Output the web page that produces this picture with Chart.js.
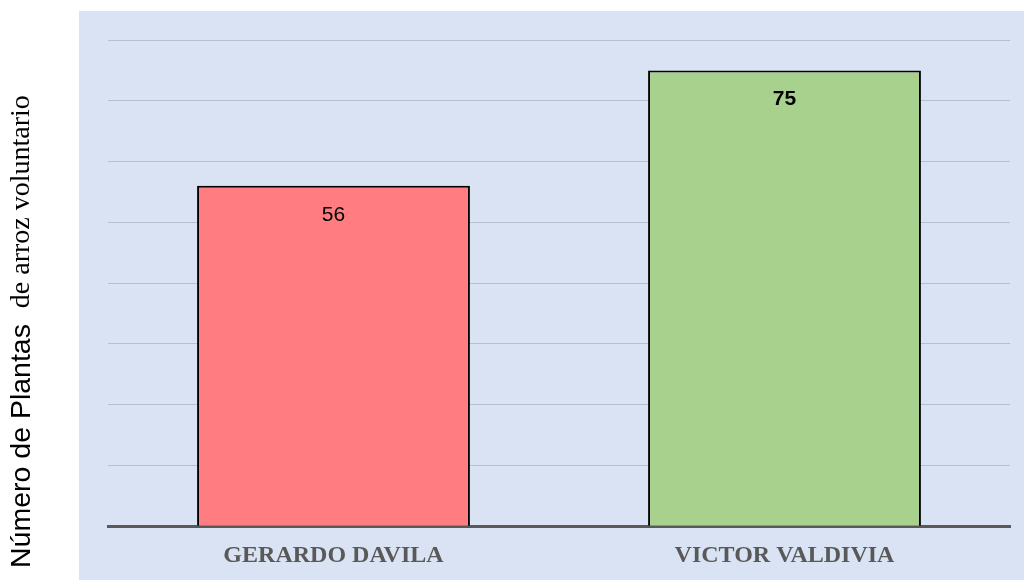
<!DOCTYPE html>
<html>
<head>
<meta charset="utf-8">
<script src="https://cdn.jsdelivr.net/npm/chart.js@4.4.1/dist/chart.umd.min.js"></script>
<style>
  html, body { margin: 0; padding: 0; background: #ffffff; }
  #wrap { width: 1024px; height: 580px; }
</style>
</head>
<body>
<div id="wrap"><canvas id="chart" width="1024" height="580"></canvas></div>
<script>
const categories = ['GERARDO DAVILA', 'VICTOR VALDIVIA'];
const plantValues = [56, 75];
const barColors = ['#ff7c80', '#a9d18e'];
const labelBold = [false, true];
const yTitleSans = 'Número de Plantas  ';
const yTitleSerif = 'de arroz voluntario';

// fondo azul del área de gráfico
const plotBackground = {
  id: 'plotBackground',
  beforeDraw(chart) {
    const { ctx, chartArea } = chart;
    ctx.save();
    ctx.fillStyle = '#dae3f3';
    ctx.fillRect(chartArea.left - 29, chartArea.top - 29, chart.width - (chartArea.left - 29), chart.height - (chartArea.top - 29));
    ctx.restore();
  }
};

// etiquetas de valor dentro de las barras
const valueLabels = {
  id: 'valueLabels',
  afterDatasetsDraw(chart) {
    const { ctx } = chart;
    const meta = chart.getDatasetMeta(0);
    ctx.save();
    ctx.fillStyle = '#000000';
    ctx.textAlign = 'center';
    ctx.textBaseline = 'middle';
    meta.data.forEach((bar, i) => {
      ctx.font = (labelBold[i] ? 'bold ' : '') + '21px "Liberation Sans", Arial, sans-serif';
      ctx.fillText(String(plantValues[i]), bar.x, bar.y + 29);
    });
    ctx.restore();
  }
};

// título del eje Y con dos tipografías
const yTitle = {
  id: 'yTitle',
  afterDraw(chart) {
    const { ctx } = chart;
    ctx.save();
    ctx.translate(22, chart.height - 12);
    ctx.rotate(-Math.PI / 2);
    ctx.fillStyle = '#000000';
    ctx.textAlign = 'left';
    ctx.textBaseline = 'middle';
    ctx.font = '28.5px "Liberation Sans", Arial, sans-serif';
    ctx.fillText(yTitleSans, 0, 0);
    const w = ctx.measureText(yTitleSans).width;
    ctx.font = '28px "Liberation Serif", "Times New Roman", serif';
    ctx.fillText(yTitleSerif, w, 0);
    ctx.restore();
  }
};

new Chart(document.getElementById('chart'), {
  type: 'bar',
  data: {
    labels: categories,
    datasets: [{
      data: plantValues,
      backgroundColor: barColors,
      borderColor: '#000000',
      borderWidth: 2,
      borderSkipped: 'bottom',
      categoryPercentage: 1,
      barPercentage: 0.605
    }]
  },
  options: {
    responsive: false,
    animation: false,
    layout: { padding: { left: 108, right: 14, top: 40, bottom: -5 } },
    plugins: {
      legend: { display: false },
      tooltip: { enabled: false }
    },
    scales: {
      x: {
        grid: { display: false, drawTicks: false },
        border: { color: '#595959', width: 3 },
        ticks: {
          color: '#595959',
          padding: 15,
          font: { family: '"Liberation Serif", "Times New Roman", serif', size: 24, weight: 'bold' }
        }
      },
      y: {
        min: 0,
        max: 80,
        ticks: { display: false, stepSize: 10 },
        grid: { color: '#b8bfca', lineWidth: 1, drawTicks: false },
        border: { display: false }
      }
    }
  },
  plugins: [plotBackground, valueLabels, yTitle]
});
</script>
</body>
</html>
